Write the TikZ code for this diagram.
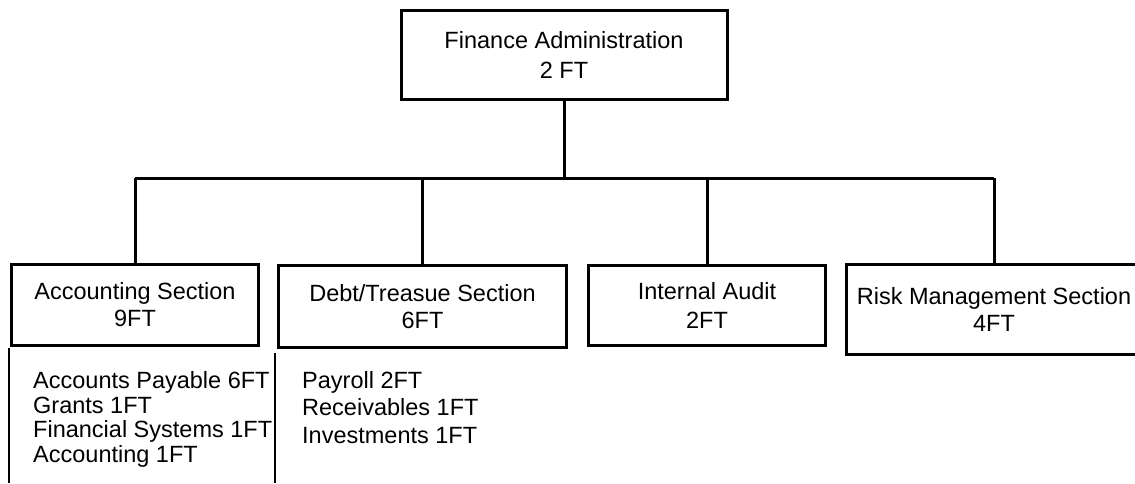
\documentclass[tikz,border=0pt]{standalone}
\usepackage{fontspec}
\setmainfont{Liberation Sans}
\begin{document}
\begin{tikzpicture}[x=1pt,y=-1pt,
  box/.style={draw, line width=3pt, inner sep=0pt, align=center, font=\fontsize{23.5}{27}\selectfont},
  conn/.style={line width=3pt},
  listtext/.style={anchor=base west, align=left, inner sep=0pt},
  rule/.style={line width=1.2pt}]
\useasboundingbox (0,0) rectangle (1135,483);
% boxes
\node[box, minimum width=326pt, minimum height=89pt] (top) at (564,55) {Finance Administration\\[3pt]2 FT};
\node[box, minimum width=247pt, minimum height=81pt] (acc) at (135,305) {Accounting Section\\9FT};
\node[box, minimum width=288pt, minimum height=82pt] (debt) at (422.5,306.5) {Debt/Treasue Section\\6FT};
\node[box, minimum width=237pt, minimum height=80pt] (audit) at (707,305.5) {Internal Audit\\[2pt]2FT};
\node[box, minimum width=296pt, minimum height=90pt] (risk) at (994,309.5) {Risk Management Section\\4FT};
% bus
\coordinate (busL) at (135,178);
\coordinate (busR) at (994,178);
\draw[conn] (top.south) -- (top.south |- busL);
\draw[conn] (busL) -- (busR);
\draw[conn] (acc.north) -- (acc.north |- busL);
\draw[conn] (debt.north) -- (debt.north |- busL);
\draw[conn] (audit.north) -- (audit.north |- busL);
\draw[conn] (risk.north) -- (risk.north |- busR);
% lists (base anchor = last line's baseline)
\node[listtext, font=\fontsize{23.5}{24.5}\selectfont] (acclist) at (33,462)
  {Accounts Payable 6FT\\Grants 1FT\\Financial Systems 1FT\\Accounting 1FT};
\node[listtext, font=\fontsize{23.5}{27.5}\selectfont] (debtlist) at (302,443)
  {Payroll 2FT\\Receivables 1FT\\Investments 1FT};
\coordinate (a1) at (9,348);
\coordinate (a2) at (9,483);
\coordinate (d1) at (275,353);
\coordinate (d2) at (275,483);
\draw[rule] (a1) -- (a2);
\draw[rule] (d1) -- (d2);
\end{tikzpicture}
\end{document}
